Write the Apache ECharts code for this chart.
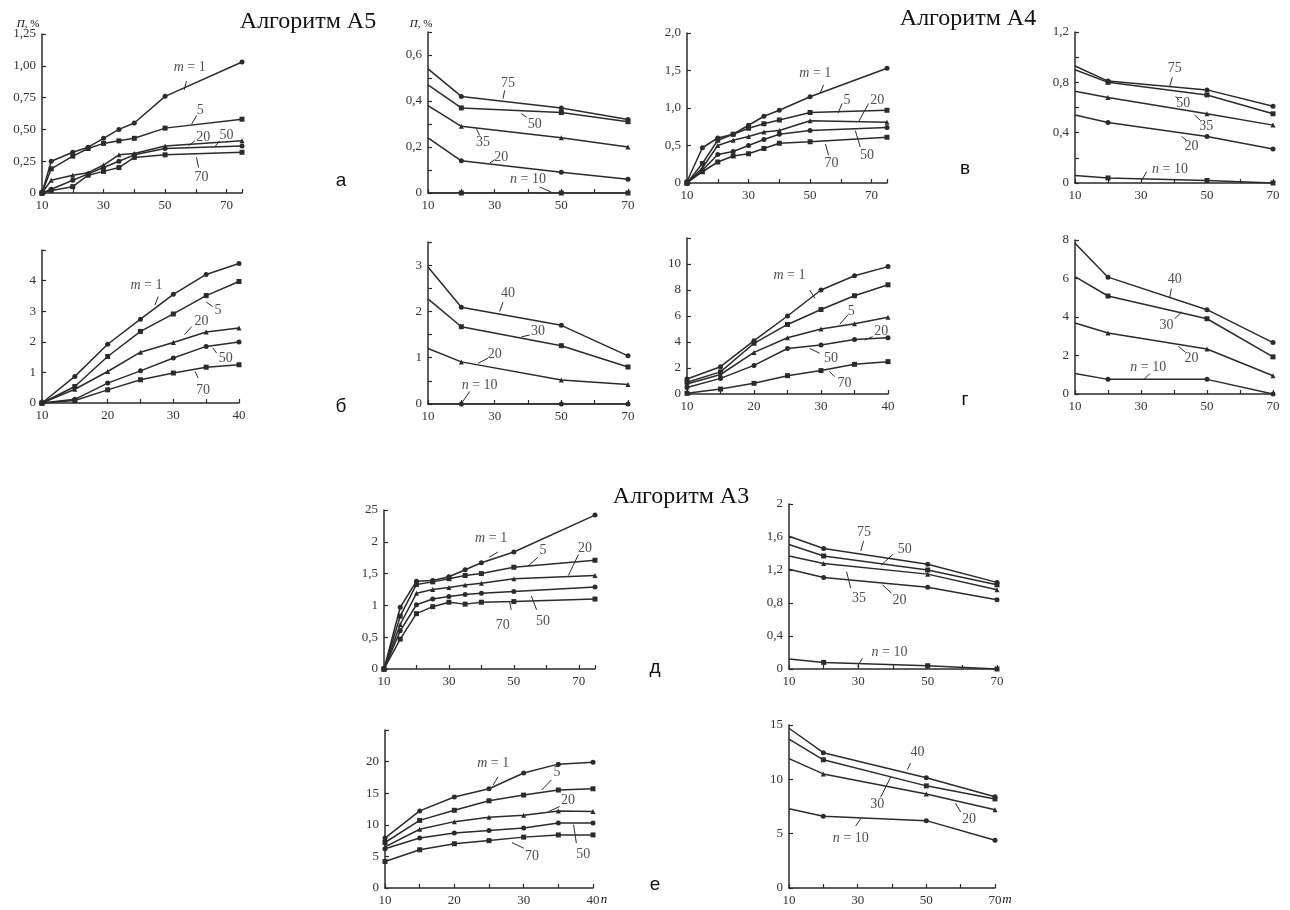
<!DOCTYPE html>
<html><head><meta charset="utf-8">
<script src="https://cdn.jsdelivr.net/npm/echarts@6/dist/echarts.min.js"></script>
<style>html,body{margin:0;padding:0;background:#fff}#c{width:1290px;height:910px}</style>
</head><body><div id="c"></div>
<script>
// ---------- DATA ----------
// x values (n for left panels, m for right panels)
const nA = [10,13,20,25,30,35,40,50,75];
const nB = [10,15,20,25,30,35,40];
const nV = [10,15,20,25,30,35,40,50,75];
const mX = [10,20,50,70];

// а – left (m = 1,5,20,50,70)
const a1_m1  = [0,0.25,0.32,0.36,0.43,0.50,0.55,0.76,1.03];
const a1_m5  = [0,0.19,0.29,0.35,0.39,0.41,0.43,0.51,0.58];
const a1_m20 = [0,0.10,0.14,0.16,0.22,0.30,0.31,0.37,0.41];
const a1_m50 = [0,0.03,0.10,0.15,0.20,0.25,0.30,0.35,0.37];
const a1_m70 = [0,0.02,0.05,0.14,0.17,0.20,0.28,0.30,0.32];
// а – right (n = 75,50,35,20,10)
const a2_n75 = [0.54,0.42,0.37,0.32];
const a2_n50 = [0.47,0.37,0.35,0.31];
const a2_n35 = [0.38,0.29,0.24,0.20];
const a2_n20 = [0.24,0.14,0.09,0.06];
const a2_n10 = [0,0,0,0];
// б – left
const b1_m1  = [0,0.87,1.92,2.74,3.55,4.20,4.56];
const b1_m5  = [0,0.54,1.52,2.34,2.91,3.51,3.97];
const b1_m20 = [0,0.45,1.03,1.66,1.98,2.32,2.45];
const b1_m50 = [0,0.12,0.65,1.05,1.47,1.85,1.99];
const b1_m70 = [0,0.08,0.43,0.76,0.98,1.17,1.25];
// б – right (n = 40,30,20,10)
const b2_n40 = [2.96,2.09,1.70,1.04];
const b2_n30 = [2.27,1.67,1.26,0.80];
const b2_n20 = [1.20,0.91,0.52,0.42];
const b2_n10 = [0,0,0,0];
// в – left
const v1_m1  = [0.02,0.47,0.60,0.65,0.77,0.89,0.97,1.15,1.53];
const v1_m5  = [0,0.26,0.57,0.65,0.73,0.79,0.84,0.94,0.97];
const v1_m20 = [0,0.20,0.50,0.57,0.62,0.68,0.70,0.83,0.81];
const v1_m50 = [0,0.17,0.38,0.42,0.50,0.58,0.65,0.70,0.74];
const v1_m70 = [0,0.15,0.28,0.36,0.39,0.46,0.53,0.55,0.61];
// в – right
const v2_n75 = [0.93,0.81,0.74,0.61];
const v2_n50 = [0.90,0.80,0.70,0.55];
const v2_n35 = [0.73,0.68,0.55,0.46];
const v2_n20 = [0.54,0.48,0.37,0.27];
const v2_n10 = [0.06,0.04,0.02,0.0];
// г – left
const g1_m1  = [1.15,2.1,4.1,6.0,8.0,9.1,9.8];
const g1_m5  = [0.9,1.7,3.9,5.35,6.5,7.56,8.4];
const g1_m20 = [0.77,1.5,3.2,4.33,5.0,5.4,5.9];
const g1_m50 = [0.5,1.2,2.2,3.5,3.77,4.2,4.33];
const g1_m70 = [0.05,0.38,0.82,1.41,1.8,2.28,2.49];
// г – right
const g2_n40 = [7.83,6.07,4.38,2.67];
const g2_n30 = [6.10,5.09,3.91,1.93];
const g2_n20 = [3.69,3.17,2.34,0.95];
const g2_n10 = [1.07,0.76,0.76,0.0];
// д – left
const d1_m1  = [0,0.97,1.38,1.39,1.45,1.56,1.67,1.84,2.42];
const d1_m5  = [0,0.83,1.33,1.37,1.42,1.47,1.50,1.60,1.71];
const d1_m20 = [0,0.70,1.19,1.25,1.28,1.32,1.35,1.42,1.47];
const d1_m50 = [0,0.60,1.01,1.10,1.14,1.17,1.19,1.22,1.29];
const d1_m70 = [0,0.47,0.87,0.98,1.05,1.02,1.05,1.06,1.10];
// д – right
const d2_n75 = [1.61,1.46,1.27,1.05];
const d2_n50 = [1.51,1.37,1.20,1.02];
const d2_n35 = [1.37,1.28,1.15,0.96];
const d2_n20 = [1.21,1.11,0.99,0.84];
const d2_n10 = [0.12,0.08,0.04,0.0];
// е – left
const e1_m1  = [7.9,12.2,14.4,15.7,18.2,19.6,19.9];
const e1_m5  = [7.2,10.7,12.3,13.8,14.7,15.5,15.7];
const e1_m20 = [6.5,9.3,10.5,11.2,11.5,12.2,12.1];
const e1_m50 = [6.2,7.9,8.7,9.1,9.5,10.3,10.3];
const e1_m70 = [4.2,6.05,7.0,7.5,8.05,8.4,8.4];
// е – right
const e2_n40 = [14.7,12.45,10.15,8.4];
const e2_n30 = [13.7,11.8,9.4,8.2];
const e2_n20 = [11.9,10.5,8.65,7.2];
const e2_n10 = [7.3,6.6,6.2,4.4];

// tick labels
const xt_75 = [[10,'10'],[30,'30'],[50,'50'],[70,'70']];
const xt_40 = [[10,'10'],[20,'20'],[30,'30'],[40,'40']];
const yt_a1 = [[0,'0'],[0.25,'0,25'],[0.5,'0,50'],[0.75,'0,75'],[1,'1,00'],[1.25,'1,25']];
const yt_a2 = [[0,'0'],[0.2,'0,2'],[0.4,'0,4'],[0.6,'0,6']];
const yt_v1 = [[0,'0'],[0.5,'0,5'],[1,'1,0'],[1.5,'1,5'],[2,'2,0']];
const yt_v2 = [[0,'0'],[0.4,'0,4'],[0.8,'0,8'],[1.2,'1,2']];
const yt_b1 = [[0,'0'],[1,'1'],[2,'2'],[3,'3'],[4,'4']];
const yt_b2 = [[0,'0'],[1,'1'],[2,'2'],[3,'3']];
const yt_g1 = [[0,'0'],[2,'2'],[4,'4'],[6,'6'],[8,'8'],[10,'10']];
const yt_g2 = [[0,'0'],[2,'2'],[4,'4'],[6,'6'],[8,'8']];
const yt_d1 = [[0,'0'],[0.5,'0,5'],[1,'1'],[1.5,'1,5'],[2,'2'],[2.5,'25']];
const yt_d2 = [[0,'0'],[0.4,'0,4'],[0.8,'0,8'],[1.2,'1,2'],[1.6,'1,6'],[2,'2']];
const yt_e1 = [[0,'0'],[5,'5'],[10,'10'],[15,'15'],[20,'20']];
const yt_e2 = [[0,'0'],[5,'5'],[10,'10'],[15,'15']];

// curve annotations: [text, textX, textY, leaderX1, leaderY1, leaderX2, leaderY2]
const a1_notes = [['{i|m} = 1',58,0.99,57,0.88,56.2,0.81],['5',61.4,0.65,60.3,0.61,58.6,0.54],['20',62.4,0.44,59.7,0.41,57.6,0.37],['50',70,0.45,67.7,0.41,66.1,0.36],['70',61.8,0.125,60.9,0.2,60.2,0.28]];
const a2_notes = [['75',34,0.475,33,0.446,32.5,0.41],['50',42,0.30,39.5,0.33,38,0.345],['35',26.5,0.22,25.5,0.25,24.5,0.28],['20',32,0.157,30,0.145,28.5,0.13],['{i|n} = 10',40,0.058,43.5,0.026,47,0.004]];
const v1_notes = [['{i|m} = 1',51.7,1.46,54.4,1.31,53.3,1.2],['5',62,1.1,60.4,1.06,59.1,0.93],['20',71.8,1.1,69,1.06,65.8,0.82],['50',68.5,0.37,66.3,0.48,64.7,0.7],['70',57,0.26,56,0.37,55,0.52]];
const v2_notes = [['75',40.2,0.915,39.5,0.84,38.7,0.77],['50',42.8,0.635,41.5,0.66,40.5,0.69],['35',49.8,0.45,47.9,0.5,46.3,0.54],['20',45.3,0.29,43.8,0.34,42.3,0.37],['{i|n} = 10',38.8,0.107,31.7,0.09,30.2,0.02]];
const b1_notes = [['{i|m} = 1',25.9,3.86,27.7,3.48,27.2,3.2],['5',36.8,3.04,36,3.15,35,3.3],['20',34.3,2.66,32.8,2.5,31.7,2.23],['50',38,1.47,36.6,1.63,36,1.8],['70',34.5,0.43,33.8,0.82,33.3,1.03]];
const b2_notes = [['40',34,2.39,32.5,2.2,31.5,2.0],['30',43,1.58,40.5,1.49,38,1.45],['20',30,1.07,28,0.99,25,0.88],['{i|n} = 10',25.5,0.41,22.5,0.27,20,0.01]];
const g1_notes = [['{i|m} = 1',25.3,9.15,28.3,8.0,29.1,7.36],['5',34.5,6.33,34,6.08,32.8,5.36],['20',39,4.8,37.7,4.41,36.5,4.15],['50',31.5,2.74,29.8,3.13,28.3,3.51],['70',33.5,0.82,32,1.33,31.3,1.72]];
const g2_notes = [['40',40.2,5.98,39.2,5.47,38.7,5.03],['30',37.7,3.57,40.2,3.91,42.3,4.26],['20',45.3,1.84,43.3,2.19,41.3,2.48],['{i|n} = 10',32.2,1.41,32.7,1.07,30.7,0.72]];
const d1_notes = [['{i|m} = 1',43,2.06,45.1,1.84,42.5,1.76],['5',59,1.86,57.5,1.76,54.4,1.62],['20',71.9,1.9,69.9,1.8,66.8,1.47],['50',59,0.75,57,0.93,55.4,1.15],['70',46.6,0.69,49.2,0.93,48.7,1.05]];
const d2_notes = [['75',31.6,1.66,31.5,1.55,30.7,1.43],['50',43.4,1.45,40,1.39,36.6,1.26],['35',30.2,0.86,27.8,0.98,26.6,1.18],['20',41.9,0.83,39.5,0.92,37,1.02],['{i|n} = 10',39,0.2,31.2,0.13,29.7,0.03]];
const e1_notes = [['{i|m} = 1',25.6,19.7,26.3,17.6,25.6,16.3],['5',34.8,18.3,34,17.1,32.6,15.5],['20',36.4,13.9,35.2,12.9,33.6,12.1],['50',38.6,5.3,37.6,7.1,37.2,10],['70',31.2,5,30,6.3,28.3,7.2]];
const e2_notes = [['40',47.4,12.5,45.4,11.5,44.5,10.9],['30',35.7,7.7,36.7,8.35,39.6,10.2],['20',62.4,6.3,60,7.0,58.5,7.8],['{i|n} = 10',28,4.6,29.4,5.7,30.9,6.4]];

// ---------- LAYOUT ----------
const panels = [
  {g:[42,34,200,159],   xr:[10,75,10], xt:xt_75, yr:[0,1.25,0.25], yt:yt_a1, xs:nA, ys:[a1_m1,a1_m5,a1_m20,a1_m50,a1_m70], notes:a1_notes},
  {g:[428,32,200,161],  xr:[10,70,10], xt:xt_75, yr:[0,0.7,0.1],   yt:yt_a2, xs:mX, ys:[a2_n75,a2_n50,a2_n35,a2_n20,a2_n10], notes:a2_notes},
  {g:[687,33,200,150],  xr:[10,75,10], xt:xt_75, yr:[0,2,0.5],     yt:yt_v1, xs:nV, ys:[v1_m1,v1_m5,v1_m20,v1_m50,v1_m70], notes:v1_notes},
  {g:[1075,32,198,151], xr:[10,70,10], xt:xt_75, yr:[0,1.2,0.2],   yt:yt_v2, xs:mX, ys:[v2_n75,v2_n50,v2_n35,v2_n20,v2_n10], notes:v2_notes},
  {g:[42,250,197,153],  xr:[10,40,5],  xt:xt_40, yr:[0,5,1],       yt:yt_b1, xs:nB, ys:[b1_m1,b1_m5,b1_m20,b1_m50,b1_m70], notes:b1_notes},
  {g:[428,242,200,162], xr:[10,70,10], xt:xt_75, yr:[0,3.5,0.5],   yt:yt_b2, xs:mX, ys:[b2_n40,b2_n30,b2_n20,b2_n10], notes:b2_notes},
  {g:[687,238,201,156], xr:[10,40,5],  xt:xt_40, yr:[0,12,2],      yt:yt_g1, xs:nB, ys:[g1_m1,g1_m5,g1_m20,g1_m50,g1_m70], notes:g1_notes},
  {g:[1075,240,198,154],xr:[10,70,10], xt:xt_75, yr:[0,8,2],       yt:yt_g2, xs:mX, ys:[g2_n40,g2_n30,g2_n20,g2_n10], notes:g2_notes},
  {g:[384,510,211,159], xr:[10,75,10], xt:xt_75, yr:[0,2.5,0.5],   yt:yt_d1, xs:nV, ys:[d1_m1,d1_m5,d1_m20,d1_m50,d1_m70], notes:d1_notes},
  {g:[789,504,208,165], xr:[10,70,10], xt:xt_75, yr:[0,2,0.4],     yt:yt_d2, xs:mX, ys:[d2_n75,d2_n50,d2_n35,d2_n20,d2_n10], notes:d2_notes},
  {g:[385,730,208,158], xr:[10,40,5],  xt:xt_40, yr:[0,25,5],      yt:yt_e1, xs:nB, ys:[e1_m1,e1_m5,e1_m20,e1_m50,e1_m70], notes:e1_notes},
  {g:[789,725,206,163], xr:[10,70,10], xt:xt_75, yr:[0,15,5],      yt:yt_e2, xs:mX, ys:[e2_n40,e2_n30,e2_n20,e2_n10], notes:e2_notes}
];

const INK = '#2b2b2b';
const SERIF = '"Liberation Serif", "DejaVu Serif", serif';
const symbols = ['circle','rect','triangle','circle','rect'];
const lookup = ticks => v => { for (const [tv,t] of ticks) if (Math.abs(v-tv) < 1e-6) return t; return ''; };

const grid = [], xAxis = [], yAxis = [], series = [];
panels.forEach((p, i) => {
  const rightPanel = p.xs === mX;
  grid.push({left:p.g[0], top:p.g[1], width:p.g[2], height:p.g[3], containLabel:false, outerBoundsMode:'none'});
  const axisCommon = {
    axisLine:{show:true, onZero:false, lineStyle:{color:INK, width:1.5}},
    axisTick:{show:true, inside:true, length:4, lineStyle:{color:INK, width:1.2}},
    splitLine:{show:false},
  };
  xAxis.push(Object.assign({type:'value', gridIndex:i, min:p.xr[0], max:p.xr[1], interval:p.xr[2],
    axisLabel:{formatter:lookup(p.xt), color:'#333', fontFamily:SERIF, fontSize:13, margin:6, showMaxLabel:true, hideOverlap:false}}, axisCommon));
  yAxis.push(Object.assign({type:'value', gridIndex:i, min:p.yr[0], max:p.yr[1], interval:p.yr[2],
    axisLabel:{formatter:lookup(p.yt), color:'#333', fontFamily:SERIF, fontSize:13, margin:6, hideOverlap:false}}, axisCommon));
  p.ys.forEach((ys, k) => {
    series.push({type:'line', xAxisIndex:i, yAxisIndex:i,
      data:p.xs.map((x,j)=> (rightPanel && j===0) ? {value:[x, ys[j]], symbol:'none'} : [x, ys[j]]),
      symbol:symbols[k], symbolSize:5, showSymbol:true, silent:true, animation:false,
      lineStyle:{color:INK, width:1.5}, itemStyle:{color:INK}});
  });
  series.push({type:'scatter', xAxisIndex:i, yAxisIndex:i, symbolSize:0, silent:true, animation:false, clip:false,
    data:p.notes.map(n=>[n[1], n[2], n[0]]),
    label:{show:true, position:'inside', formatter:q=>q.data[2], color:'#222', fontFamily:SERIF, fontSize:14,
      rich:{i:{fontStyle:'italic', fontFamily:SERIF, fontSize:14, color:'#222'}}}});
  series.push({type:'lines', coordinateSystem:'cartesian2d', xAxisIndex:i, yAxisIndex:i, silent:true, animation:false,
    data:p.notes.map(n=>({coords:[[n[3],n[4]],[n[5],n[6]]]})), lineStyle:{color:INK, width:1, opacity:1}});
});

const txt = (s, x, y, font, extra) => Object.assign({type:'text', x, y, silent:true,
  style:Object.assign({text:s, font, fill:'#111', textAlign:'center', textVerticalAlign:'middle'}, extra||{})});

const graphic = [
  txt('Алгоритм А5', 308, 22, '24px "Liberation Serif"'),
  txt('Алгоритм А4', 968, 19, '24px "Liberation Serif"'),
  txt('Алгоритм А3', 681, 497, '24px "Liberation Serif"'),
  txt('а', 341, 181, '19px "Liberation Sans"'),
  txt('б', 341, 407, '19px "Liberation Sans"'),
  txt('в', 965, 169, '19px "Liberation Sans"'),
  txt('г', 965, 400, '19px "Liberation Sans"'),
  txt('д', 655, 668, '19px "Liberation Sans"'),
  txt('е', 655, 885, '19px "Liberation Sans"'),
  txt('{i|П}, %', 28, 24, '11px "Liberation Serif"', {rich:{i:{fontStyle:'italic', fontSize:11, fontFamily:SERIF}}}),
  txt('{i|П}, %', 421, 24, '11px "Liberation Serif"', {rich:{i:{fontStyle:'italic', fontSize:11, fontFamily:SERIF}}}),
  txt('n', 604, 900, 'italic 13px "Liberation Serif"'),
  txt('m', 1007, 900, 'italic 13px "Liberation Serif"')
];

const chart = echarts.init(document.getElementById('c'), null, {renderer:'canvas'});
chart.setOption({animation:false, backgroundColor:'#fff', grid, xAxis, yAxis, series, graphic});
</script></body></html>
